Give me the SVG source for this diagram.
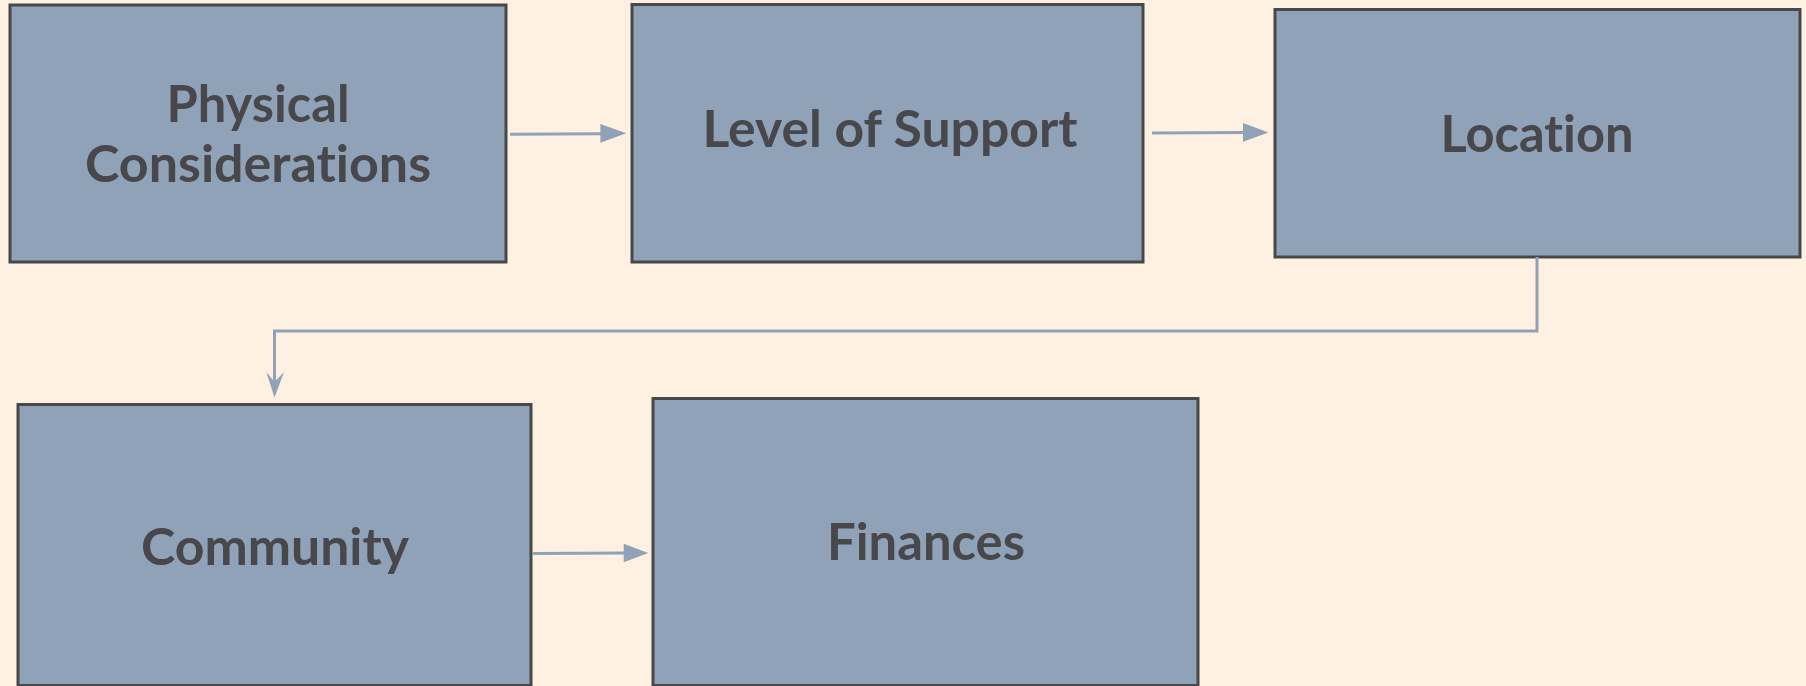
<svg xmlns="http://www.w3.org/2000/svg" width="1806" height="686" viewBox="0 0 1806 686">
<style>
.box{fill:#8fa2b7;stroke:#48484b;stroke-width:3}
.lbl{font-family:Lato,"Open Sans","Liberation Sans",sans-serif;font-weight:bold;font-size:51px;fill:#48474c;text-anchor:middle;font-variant-ligatures:none;font-feature-settings:"liga" 0}
.con{fill:none;stroke:#8fa2b7;stroke-width:3}
.head{fill:#8fa2b7}
</style>
<rect width="1806" height="686" fill="#fff1e1"/>
<g id="physical">
<rect class="box" x="10" y="5" width="496" height="257"/>
<text class="lbl" x="258" y="121.7" textLength="183" lengthAdjust="spacingAndGlyphs">Physical</text>
<text class="lbl" x="258" y="181.7" textLength="346" lengthAdjust="spacingAndGlyphs">Considerations</text>
</g>
<g id="support">
<rect class="box" x="632" y="4.5" width="511" height="257.5"/>
<text class="lbl" x="890" y="147.3" textLength="375" lengthAdjust="spacingAndGlyphs">Level of Support</text>
</g>
<g id="location">
<rect class="box" x="1275" y="9.5" width="525" height="247.5"/>
<text class="lbl" x="1537" y="152.3" textLength="193" lengthAdjust="spacingAndGlyphs">Location</text>
</g>
<g id="community">
<rect class="box" x="18" y="404.5" width="513" height="281"/>
<text class="lbl" x="275" y="565" textLength="268" lengthAdjust="spacingAndGlyphs">Community</text>
</g>
<g id="finances">
<rect class="box" x="653" y="398.5" width="545" height="287"/>
<text class="lbl" x="926" y="560.3" textLength="198" lengthAdjust="spacingAndGlyphs">Finances</text>
</g>
<g id="connectors">
<line class="con" x1="510" y1="134.3" x2="602" y2="133.8"/>
<polygon class="head" points="626.3,133.3 600.4,124 600.4,142.7"/>
<line class="con" x1="1152" y1="133" x2="1245" y2="132.5"/>
<polygon class="head" points="1268.4,132.4 1243,123 1243,141.7"/>
<polyline class="con" points="1537,257 1537,331 274.5,331 274.5,384"/>
<polygon class="head" points="274.5,397.5 266.3,372 274.5,382 284,372"/>
<line class="con" x1="533" y1="553.5" x2="625" y2="553"/>
<polygon class="head" points="648.2,553 623.7,543.7 623.7,562.3"/>
</g>
</svg>
